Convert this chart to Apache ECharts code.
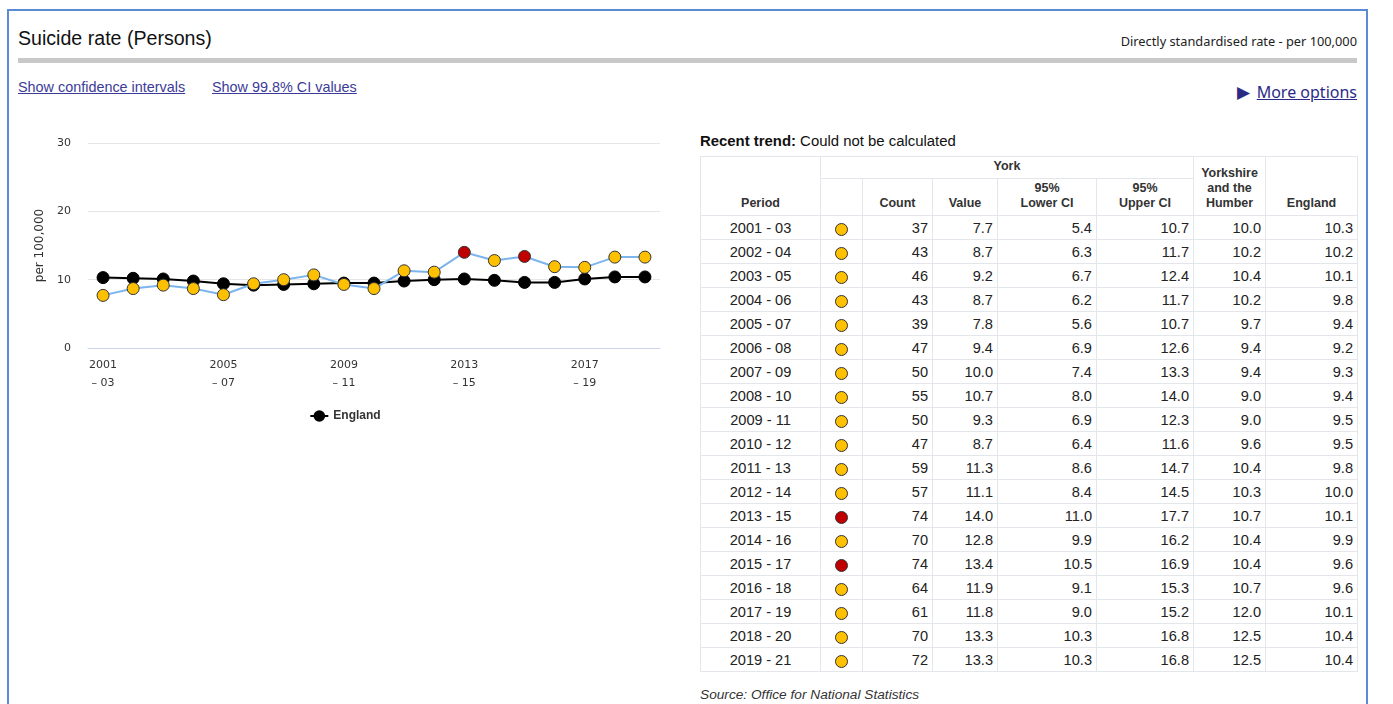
<!DOCTYPE html>
<html>
<head>
<meta charset="utf-8">
<script src="https://cdn.jsdelivr.net/npm/echarts@6/dist/echarts.min.js"></script>
<style>
  html, body { margin:0; padding:0; background:#fff; width:1393px; height:704px; overflow:hidden; font-family:"Liberation Sans", Arial, sans-serif; }
  .frame { position:absolute; left:7px; top:9px; width:1357px; height:800px; border:2px solid #5b8ad6; box-sizing:content-box; }
  .abs { position:absolute; white-space:nowrap; }
  #title { left:18px; top:27px; font-size:19.6px; color:#111; }
  #units { right:36px; top:32px; font-size:12.8px; color:#222; font-family:"Noto Sans", sans-serif; }
  #bar { left:18px; top:58px; width:1339px; height:5px; background:#c8c8c8; }
  .lnk { top:79px; font-size:14.4px; color:#3b3b98; text-decoration:underline; }
  #more { right:36px; top:80px; font-size:16px; color:#2b2b86; font-family:"Noto Sans", sans-serif; }
  #more span.t { text-decoration:none; font-size:17px; margin-right:7px; position:relative; top:0px; }
  #more span.u { text-decoration:underline; }
  #chart { position:absolute; left:0; top:120px; width:690px; height:320px; }
  #trend { left:700px; top:133px; font-size:14.9px; color:#111; }
  #tbl { position:absolute; left:700px; top:156px; width:657px; border-collapse:collapse; table-layout:fixed; font-size:14.6px; color:#222; }
  #tbl td, #tbl th { border:1px solid #e3e6eb; padding:0 4px; box-sizing:border-box; }
  #tbl th { font-size:12.5px; font-weight:bold; color:#333; vertical-align:bottom; text-align:center; padding-bottom:4px; line-height:15px; }
  #tbl tr.h1 th { height:22px; }
  #tbl tr.h2 th { height:37px; }
  #tbl td { height:24px; text-align:right; line-height:22px; }
  #tbl td.p { text-align:center; }
  #tbl td.d { text-align:center; }
  .dot { display:inline-block; width:11px; height:11px; border-radius:50%; border:1px solid #333; position:relative; top:3px; }
  #src { left:700px; top:687px; font-size:13.7px; font-style:italic; color:#333; }
</style>
</head>
<body>
<div class="frame"></div>
<div class="abs" id="title">Suicide rate (Persons)</div>
<div class="abs" id="units">Directly standardised rate - per 100,000</div>
<div class="abs" id="bar"></div>
<div class="abs lnk" style="left:18px">Show confidence intervals</div>
<div class="abs lnk" style="left:212px">Show 99.8% CI values</div>
<div class="abs" id="more"><span class="t">&#9654;</span><span class="u">More options</span></div>
<div id="chart"></div>
<div class="abs" id="trend"><b>Recent trend:</b> Could not be calculated</div>
<table id="tbl"></table>
<div class="abs" id="src">Source: Office for National Statistics</div>
<script>
var periods = ["2001 - 03","2002 - 04","2003 - 05","2004 - 06","2005 - 07","2006 - 08","2007 - 09","2008 - 10","2009 - 11","2010 - 12","2011 - 13","2012 - 14","2013 - 15","2014 - 16","2015 - 17","2016 - 18","2017 - 19","2018 - 20","2019 - 21"];
var yorkCount = [37,43,46,43,39,47,50,55,50,47,59,57,74,70,74,64,61,70,72];
var yorkValue = [7.7,8.7,9.2,8.7,7.8,9.4,10.0,10.7,9.3,8.7,11.3,11.1,14.0,12.8,13.4,11.9,11.8,13.3,13.3];
var yorkLowerCI = [5.4,6.3,6.7,6.2,5.6,6.9,7.4,8.0,6.9,6.4,8.6,8.4,11.0,9.9,10.5,9.1,9.0,10.3,10.3];
var yorkUpperCI = [10.7,11.7,12.4,11.7,10.7,12.6,13.3,14.0,12.3,11.6,14.7,14.5,17.7,16.2,16.9,15.3,15.2,16.8,16.8];
var yorkshireValue = [10.0,10.2,10.4,10.2,9.7,9.4,9.4,9.0,9.0,9.6,10.4,10.3,10.7,10.4,10.4,10.7,12.0,12.5,12.5];
var englandValue = [10.3,10.2,10.1,9.8,9.4,9.2,9.3,9.4,9.5,9.5,9.8,10.0,10.1,9.9,9.6,9.6,10.1,10.4,10.4];
var comparison = ["similar","similar","similar","similar","similar","similar","similar","similar","similar","similar","similar","similar","worse","similar","worse","similar","similar","similar","similar"];
var yTicks = [0, 10, 20, 30];

var compColor = { similar: "#ffc000", worse: "#c00000" };

// Table
var html = '<colgroup><col style="width:120px"><col style="width:42px"><col style="width:70px"><col style="width:65px"><col style="width:99px"><col style="width:97px"><col style="width:72px"><col style="width:92px"></colgroup>';
html += '<tr class="h1"><th rowspan="2">Period</th><th colspan="5">York</th><th rowspan="2">Yorkshire<br>and the<br>Humber</th><th rowspan="2">England</th></tr>';
html += '<tr class="h2"><th></th><th>Count</th><th>Value</th><th>95%<br>Lower CI</th><th>95%<br>Upper CI</th></tr>';
for (var i = 0; i < periods.length; i++) {
  html += '<tr><td class="p">' + periods[i] + '</td><td class="d"><span class="dot" style="background:' + compColor[comparison[i]] + '"></span></td>' +
    '<td>' + yorkCount[i] + '</td><td>' + yorkValue[i].toFixed(1) + '</td><td>' + yorkLowerCI[i].toFixed(1) + '</td><td>' + yorkUpperCI[i].toFixed(1) + '</td>' +
    '<td>' + yorkshireValue[i].toFixed(1) + '</td><td>' + englandValue[i].toFixed(1) + '</td></tr>';
}
document.getElementById('tbl').innerHTML = html;

// Chart
var chart = echarts.init(document.getElementById('chart'), null, { renderer: 'canvas' });
var yorkData = yorkValue.map(function (v, i) {
  return { value: v, itemStyle: { color: compColor[comparison[i]] } };
});
chart.setOption({
  animation: false,
  grid: { left: 88, right: 30, top: 23, height: 205 },
  legend: {
    data: ['England'],
    top: 285, left: 'center',
    itemWidth: 18, itemHeight: 12, itemGap: 6,
    textStyle: { fontWeight: 'bold', fontSize: 12, color: '#333', fontFamily: 'Liberation Sans, Arial' }
  },
  xAxis: {
    type: 'category',
    data: periods,
    boundaryGap: true,
    axisLine: { lineStyle: { color: '#ccd6eb', width: 1 } },
    axisTick: { alignWithLabel: true, interval: 0, length: 6, lineStyle: { color: '#ccd6eb' } },
    axisLabel: {
      interval: 3, margin: 8, color: '#333', fontSize: 11, lineHeight: 18,
      fontFamily: 'DejaVu Sans',
      formatter: function (v) { return v.replace(' - ', '\n\u2013 '); }
    },
    splitLine: { show: false }
  },
  yAxis: {
    type: 'value',
    min: yTicks[0], max: yTicks[yTicks.length - 1], interval: 10,
    name: 'per 100,000', nameLocation: 'middle', nameGap: 41,
    nameTextStyle: { color: '#333', fontSize: 12, fontFamily: 'DejaVu Sans' },
    axisLine: { show: false },
    axisTick: { show: false },
    axisLabel: { color: '#333', fontSize: 11, margin: 17, fontFamily: 'DejaVu Sans' },
    splitLine: { lineStyle: { color: '#e6e6e6' } }
  },
  series: [
    {
      name: 'England', type: 'line', data: englandValue, z: 2,
      symbol: 'circle', symbolSize: 12,
      lineStyle: { color: '#000', width: 2 },
      itemStyle: { color: '#000', borderColor: '#000', borderWidth: 1 }
    },
    {
      name: 'York', type: 'line', data: yorkData, z: 3,
      symbol: 'circle', symbolSize: 12,
      lineStyle: { color: '#7cb5ec', width: 2 },
      itemStyle: { color: '#ffc000', borderColor: '#333', borderWidth: 1 }
    }
  ]
});
</script>
</body>
</html>
